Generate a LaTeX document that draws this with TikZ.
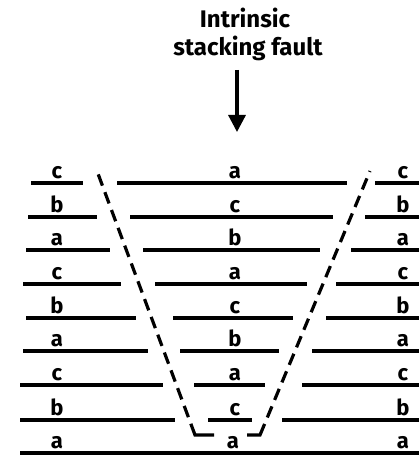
\documentclass[tikz,border=0pt]{standalone}
\usepackage{fontspec}
\setmainfont{Fira Sans}
\usetikzlibrary{arrows.meta,calc}
\begin{document}
\begin{tikzpicture}[x=1pt,y=-1pt,
  layer/.style={line width=3.2pt},
  fault/.style={line width=3.2pt, dash pattern=on 12pt off 7pt},
  lbl/.style={anchor=base, inner sep=0pt, font=\fontsize{22}{22}\selectfont\bfseries},
  ttl/.style={anchor=base, inner sep=0pt, font=\fontsize{24}{24}\selectfont\bfseries}]
\useasboundingbox (0,0) rectangle (419,457);
% title and arrow
\node[ttl] (title1) at (245,28) {Intrinsic};
\node[ttl] (title2) at (248,56) {stacking fault};
\coordinate (arrtop) at (237,70);
\coordinate (arrtip) at (237,132);
\draw[line width=3.2pt, -{Triangle[length=17pt,width=17pt]}] (arrtop) -- (arrtip);
% layers
\foreach \y/\la/\ls/\le/\ma/\ms/\me/\rs [count=\i] in
  {183/c/31/83/a/117/347/375,
   217/b/28/97/c/130/333/365,
   250/a/26/110/b/143/320/351,
   284/c/23/121/a/155/307/336,
   318/b/26/136/c/173/293/326,
   351/a/23/148/b/180/279/312,
   385/c/20/163/a/194/265/302,
   420/b/20/175/c/208/252/282}{
  \draw[layer] (\ls,\y) -- (\le,\y);
  \draw[layer] (\ms,\y) -- (\me,\y);
  \draw[layer] (\rs,\y) -- (421,\y);
  \node[lbl] (L\i) at (57,\y-5) {\la};
  \node[lbl] (M\i) at (235,\y-5) {\ma};
  \node[lbl] (R\i) at (403,\y-5) {\la};
}
% bottom layer
\draw[layer] (20,453) -- (421,453);
\node[lbl] (L9) at (57,448) {a};
\node[lbl] (M9) at (233,448) {a};
\node[lbl] (R9) at (403,448) {a};
% fault boundaries
\coordinate (lc) at (195,435);
\coordinate (lt) at (97,171);
\coordinate (rc) at (260,435);
\coordinate (rt) at (370,171);
\draw[layer, line join=miter] (214,435) -- (lc) -- ($(lc)!12pt!(lt)$);
\draw[fault] ($(lc)!19pt!(lt)$) -- (lt);
\draw[layer, line join=miter] (247,435) -- (rc) -- ($(rc)!12pt!(rt)$);
\draw[fault] ($(rc)!19pt!(rt)$) -- (rt);
\end{tikzpicture}
\end{document}
